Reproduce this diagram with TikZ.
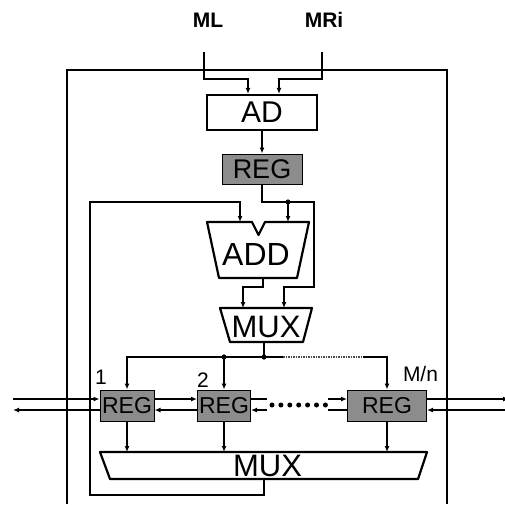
\documentclass[tikz,border=0pt]{standalone}
\usepackage{fontspec}
\setmainfont{Liberation Sans}
\usetikzlibrary{arrows.meta}
\begin{document}
\begin{tikzpicture}[x=1pt,y=-1pt,
  wire/.style={line width=1.3pt},
  arr/.style={wire,-{Latex[length=6pt,width=5pt]}},
  thickbox/.style={line width=2.2pt},
  regbox/.style={draw,line width=1pt,fill=black!45,inner sep=0pt,
    minimum height=31pt,font=\fontsize{23}{23}\selectfont},
  lbl/.style={inner sep=0pt,font=\fontsize{21}{21}\selectfont},
  inlbl/.style={inner sep=0pt,font=\fontsize{21}{21}\selectfont\bfseries},
  bigtxt/.style={inner sep=0pt,font=\fontsize{31}{31}\selectfont},
  dot/.style={fill=black}]
\useasboundingbox (0,0) rectangle (505,504);

% outer frame
\draw[thickbox] (67,504) -- (67,70) -- (447,70) -- (447,504);

% inputs
\node[inlbl] (ml) at (208,20) {ML};
\node[inlbl] (mri) at (324,20) {MRi};
\coordinate (mlt) at (204,52);
\coordinate (mrt) at (322,52);

% AD
\node[draw,thickbox,minimum width=110pt,minimum height=35pt,inner sep=0pt,
  font=\fontsize{30}{30}\selectfont] (ad) at (262,112.5) {AD};
\draw[arr] (mlt) |- ([xshift=-14pt,yshift=15pt]ad.north) -- ([xshift=-14pt]ad.north);
\draw[arr] (mrt) |- ([xshift=17pt,yshift=15pt]ad.north) -- ([xshift=17pt]ad.north);

% REG after AD
\node[regbox,minimum width=80pt,minimum height=30pt,font=\fontsize{27}{27}\selectfont] (reg0) at (262,169) {REG};
\draw[arr] (ad.south) -- (reg0.north);

% ADD
\draw[thickbox,line join=round] (207,222) -- (252,222) -- (258.5,235) -- (265,222) -- (309,222)
  -- (297,278) -- (219,278) -- cycle;
\node[bigtxt,font=\fontsize{32}{32}\selectfont] (addt) at (256,254) {ADD};
\coordinate (addin1) at (240,222);
\coordinate (addin2) at (288,222);
\coordinate (addout) at (263,278);

% MUX 1
\draw[thickbox,line join=round] (220,308) -- (312,308) -- (303,342) -- (230,342) -- cycle;
\node[bigtxt] (mux1t) at (266,327) {MUX};
\coordinate (muxin1) at (243,308);
\coordinate (muxin2) at (284,308);
\coordinate (mux1out) at (264,342);

% REG -> ADD / MUX
\coordinate (j1) at (288,202);
\coordinate (rr1) at (314,202);
\coordinate (rr2) at (314,287);
\draw[arr] (reg0.south) |- (rr1) -- (rr2) -| (muxin2);
\draw[arr] (j1) -- (addin2);
\fill[dot] (j1) circle (2.6);
\draw[arr] (addout) -- ++(0,9) -| (muxin1);

% register bank
\node[regbox,minimum width=54pt] (reg1) at (127,405.5) {\raisebox{-3pt}{REG}};
\node[regbox,minimum width=53pt] (reg2) at (224,405.5) {\raisebox{-3pt}{REG}};
\node[regbox,minimum width=79pt] (reg3) at (387,405.5) {\raisebox{-3pt}{REG}};
\node[lbl] (l1) at (101,377.5) {1};
\node[lbl] (l2) at (203,380.5) {2};
\node[lbl] (l3) at (420.5,373.5) {M/n};

% bus from MUX 1
\coordinate (j2) at (264,357);
\coordinate (j3) at (224,357);
\coordinate (dsA) at (283,357);
\coordinate (dsB) at (363,357);
\draw[arr] (mux1out) -- (j2) -| (reg1.north);
\draw[arr] (j3) -- (reg2.north);
\draw[wire] (j2) -- (dsA);
\draw[line width=1.2pt,dash pattern=on 1.5pt off 1pt,black!70] (dsA) -- (dsB);
\draw[arr] (dsB) -| (reg3.north);
\fill[dot] (j2) circle (2.6);
\fill[dot] (j3) circle (2.6);

% shift chain
\coordinate (lin) at (13,399);
\coordinate (lout) at (13,410);
\draw[arr] (lin) -- ([yshift=6.5pt]reg1.west);
\draw[arr] ([yshift=-4.5pt]reg1.west) -- (lout);
\draw[arr] ([yshift=6.5pt]reg1.east) -- ([yshift=6.5pt]reg2.west);
\draw[arr] ([yshift=-4.5pt]reg2.west) -- ([yshift=-4.5pt]reg1.east);
\coordinate (c1) at (267,399);
\coordinate (c2) at (267,410);
\coordinate (c3) at (328,399);
\coordinate (c4) at (328,410);
\draw[wire] ([yshift=6.5pt]reg2.east) -- (c1);
\draw[arr] (c2) -- ([yshift=-4.5pt]reg2.east);
\foreach \i in {0,...,6} \fill[dot] (272+\i*8.9,405) circle (2.5);
\draw[arr] (c3) -- ([yshift=6.5pt]reg3.west);
\draw[wire] ([yshift=-4.5pt]reg3.west) -- (c4);
\coordinate (rout) at (509,399);
\coordinate (rin) at (505,410);
\draw[arr] ([yshift=6.5pt]reg3.east) -- (rout);
\draw[arr] (rin) -- ([yshift=-4.5pt]reg3.east);

% MUX 2
\draw[thickbox,line join=round] (100,452) -- (427,452) -- (418,479) -- (110,479) -- cycle;
\node[bigtxt] (mux2t) at (267.5,465.5) {MUX};
\coordinate (m2t) at (0,452);
\coordinate (mux2out) at (264,479);
\draw[arr] (reg1.south) -- (reg1.south |- m2t);
\draw[arr] (reg2.south) -- (reg2.south |- m2t);
\draw[arr] (reg3.south) -- (reg3.south |- m2t);

% feedback
\coordinate (fbl) at (90,202);
\draw[arr] (mux2out) -- ++(0,16) -| (fbl) -| (addin1);
\end{tikzpicture}
\end{document}
